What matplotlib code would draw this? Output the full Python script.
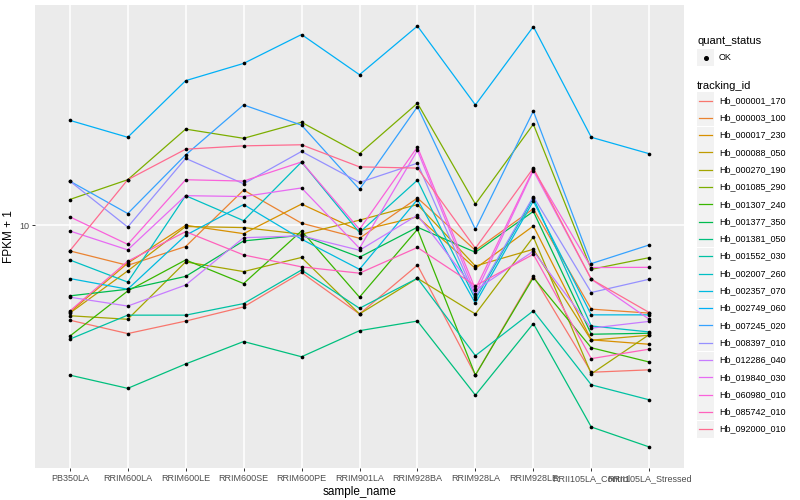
import matplotlib
matplotlib.use('Agg')
import matplotlib.pyplot as plt
from matplotlib.ticker import NullLocator
import numpy as np

plt.rcParams['font.family'] = ['Liberation Sans', 'DejaVu Sans']

# ---- data (FPKM + 1) ----
samples = ['PB350LA', 'RRIM600LA', 'RRIM600LE', 'RRIM600SE', 'RRIM600PE',
           'RRIM901LA', 'RRIM928BA', 'RRIM928LA', 'RRIM928LE',
           'RRII105LA_Control', 'RRII105LA_Stressed']

tracking_ids = ['Hb_000001_170', 'Hb_000003_100', 'Hb_000017_230', 'Hb_000088_050',
                'Hb_000270_190', 'Hb_001085_290', 'Hb_001307_240', 'Hb_001377_350',
                'Hb_001381_050', 'Hb_001552_030', 'Hb_002007_260', 'Hb_002357_070',
                'Hb_002749_060', 'Hb_007245_020', 'Hb_008397_010', 'Hb_012286_040',
                'Hb_019840_030', 'Hb_060980_010', 'Hb_085742_010', 'Hb_092000_010']

hb_000001_170 = [5.79, 5.36, 5.76, 6.25, 7.62, 6.00, 7.95, 4.22, 7.47, 4.29, 4.35]
hb_000003_100 = [8.63, 7.94, 8.85, 12.25, 10.12, 9.28, 11.7, 8.66, 11.0, 6.17, 6.03]
hb_000017_230 = [6.06, 8.04, 10.0, 9.53, 11.3, 9.69, 10.5, 7.80, 9.96, 5.17, 5.04]
hb_000088_050 = [6.03, 7.69, 9.93, 9.87, 9.50, 10.3, 11.27, 7.91, 8.71, 5.16, 5.31]
hb_000270_190 = [5.94, 5.82, 8.10, 7.66, 8.31, 6.00, 7.37, 6.00, 9.35, 4.25, 5.33]
hb_001085_290 = [11.6, 13.0, 17.4, 16.5, 18.1, 15.1, 20.2, 11.3, 17.9, 7.76, 8.30]
hb_001307_240 = [5.28, 6.85, 8.19, 7.15, 9.68, 6.61, 9.77, 4.22, 7.40, 4.94, 4.55]
hb_001377_350 = [6.66, 6.92, 7.45, 9.14, 9.44, 8.32, 9.89, 8.56, 10.83, 5.34, 5.37]
hb_001381_050 = [4.22, 3.91, 4.50, 5.12, 4.69, 5.45, 5.76, 3.76, 5.68, 3.13, 2.79]
hb_001552_030 = [5.19, 5.96, 5.96, 6.37, 7.73, 6.20, 7.37, 4.72, 6.11, 3.99, 3.66]
hb_002007_260 = [8.19, 7.21, 11.86, 10.27, 14.4, 9.59, 12.97, 6.53, 11.7, 5.60, 5.41]
hb_002357_070 = [7.36, 6.92, 9.44, 11.27, 9.23, 7.76, 11.6, 6.38, 11.5, 5.97, 5.97]
hb_002749_060 = [18.3, 16.6, 23.0, 25.4, 30.0, 23.8, 31.5, 20.0, 31.4, 16.6, 15.1]
hb_007245_020 = [12.9, 10.7, 15.0, 20.0, 17.8, 12.3, 19.8, 9.77, 19.3, 8.02, 8.93]
hb_008397_010 = [12.9, 9.90, 14.7, 12.7, 15.3, 12.8, 14.3, 6.61, 11.8, 6.79, 7.33]
hb_012286_040 = [6.61, 6.28, 7.09, 9.31, 9.41, 8.66, 10.6, 6.88, 8.61, 5.53, 5.75]
hb_019840_030 = [9.68, 8.68, 11.86, 11.8, 12.4, 8.76, 15.4, 6.73, 13.7, 7.33, 5.82]
hb_060980_010 = [10.5, 8.96, 13.0, 12.9, 14.4, 9.77, 15.7, 6.92, 13.8, 7.84, 7.85]
hb_085742_010 = [6.10, 8.13, 9.64, 8.43, 7.87, 7.59, 8.80, 7.06, 8.46, 4.64, 4.90]
hb_092000_010 = [8.63, 13.0, 15.5, 15.8, 15.9, 14.0, 13.9, 8.76, 13.9, 7.33, 6.05]

series = [hb_000001_170, hb_000003_100, hb_000017_230, hb_000088_050, hb_000270_190,
          hb_001085_290, hb_001307_240, hb_001377_350, hb_001381_050, hb_001552_030,
          hb_002007_260, hb_002357_070, hb_002749_060, hb_007245_020, hb_008397_010,
          hb_012286_040, hb_019840_030, hb_060980_010, hb_085742_010, hb_092000_010]

# ggplot hue palette, 20 levels
colours = ['#F8766D', '#EA8331', '#D89000', '#C09B00', '#A3A500', '#7CAE00', '#39B600',
           '#00BB4E', '#00BF7D', '#00C1A3', '#00BFC4', '#00BAE0', '#00B0F6', '#35A2FF',
           '#9590FF', '#C77CFF', '#E76BF3', '#FA62DB', '#FF62BC', '#FF6C90']

# ---- figure ----
W, H = 800, 500
fig = plt.figure(figsize=(8, 5), dpi=100)
L, R, T, B = 35, 684, 5, 468
ax = fig.add_axes([L / W, 1 - B / H, (R - L) / W, (B - T) / H])
ax.set_facecolor('#EBEBEB')

x = np.arange(len(samples))
for vals, col in zip(series, colours):
    ax.plot(x, vals, color=col, lw=0.9, zorder=2)
for vals in series:
    ax.scatter(x, vals, s=7, color='black', zorder=3, linewidths=0)

ax.set_yscale('log')
allv = np.log10(np.array(series))
lo, hi = allv.min(), allv.max()
span = hi - lo
ax.set_ylim(10 ** (lo - 0.05 * span), 10 ** (hi + 0.05 * span))
ax.set_xlim(-0.6, len(samples) - 0.4)

ax.set_yticks([10])
ax.set_yticklabels(['10'])
ax.yaxis.set_minor_locator(NullLocator())
ax.set_xticks(x)
ax.set_xticklabels(samples)

ax.grid(True, color='white', lw=1.1)
ax.set_axisbelow(True)
for s in ax.spines.values():
    s.set_visible(False)
ax.tick_params(length=2.2, width=0.7, color='#333333', labelcolor='#4D4D4D',
               labelsize=6.5, pad=2)

ax.set_xlabel('sample_name', fontsize=8.5, labelpad=2)
ax.set_ylabel('FPKM + 1', fontsize=8.5, labelpad=3)

# ---- legend drawn in pixel coordinates ----
lg = fig.add_axes([0, 0, 1, 1])
lg.set_xlim(0, W)
lg.set_ylim(H, 0)
lg.axis('off')

lg.text(697, 41, 'quant_status', fontsize=8, va='center', ha='left')
lg.add_patch(plt.Rectangle((697, 49), 17, 17, color='#F2F2F2', lw=0))
lg.plot([705.5], [57.5], 'o', color='black', ms=2.6)
lg.text(719, 57.5, 'OK', fontsize=6.5, va='center', ha='left')

lg.text(697, 86, 'tracking_id', fontsize=8, va='center', ha='left')
for i, (tid, col) in enumerate(zip(tracking_ids, colours)):
    yc = 100.5 + 17.3 * i
    lg.add_patch(plt.Rectangle((697, yc - 8.5), 17, 17, color='#F2F2F2', lw=0))
    lg.plot([699, 712], [yc, yc], color=col, lw=0.9)
    lg.text(719, yc, tid, fontsize=6.5, va='center', ha='left')

fig.savefig('out.png', dpi=100)
